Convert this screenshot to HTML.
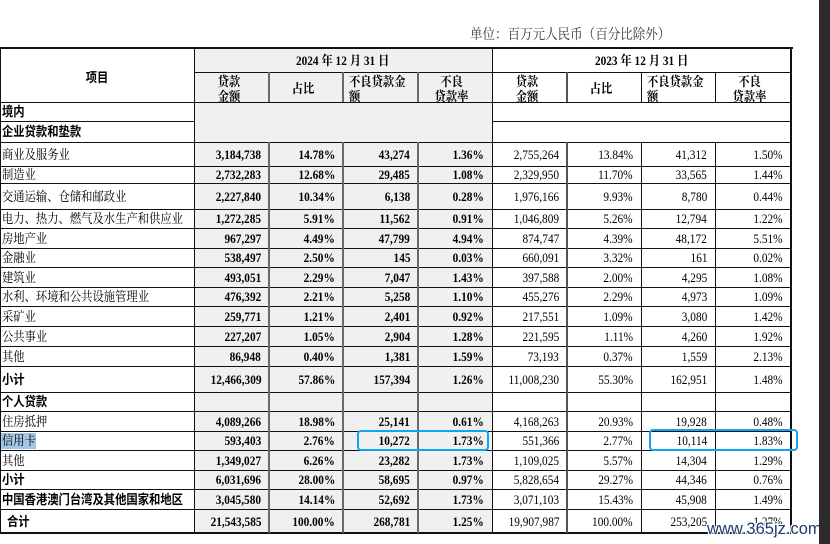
<!DOCTYPE html>
<html><head><meta charset="utf-8">
<style>
html,body{margin:0;padding:0;}
body{width:830px;height:544px;position:relative;overflow:hidden;background:#fff;}
.abs{position:absolute;}
.gray{background:#f0f0f0;}
.h{position:absolute;height:1px;background:#111;}
.v{position:absolute;width:1px;background:#111;}
.vg{position:absolute;width:2px;background:#6a6a6a;}
.row{position:absolute;left:0;width:792px;}
.row>div{position:absolute;top:0;height:100%;display:flex;align-items:center;justify-content:flex-end;padding-right:8px;box-sizing:border-box;font-family:"Liberation Serif","Noto Serif CJK SC",serif;font-size:13px;white-space:nowrap;color:#000;}
.row>div span{display:inline-block;transform:scaleX(.87);transform-origin:right center;line-height:1;}
.row>div.a{justify-content:flex-start;padding-left:2px;padding-right:0;font-family:"Liberation Serif","Noto Serif CJK SC",serif;}
.row>div.a span{transform-origin:left center;}
.row>div.a.bd{font-family:"Liberation Sans","Noto Sans CJK SC",sans-serif;font-weight:bold;}
.a{left:0;width:194px;}
.b1{left:194px;width:75px;font-weight:bold;}
.b2{left:269px;width:74px;font-weight:bold;}
.b3{left:343px;width:75px;font-weight:bold;}
.b4{left:418px;width:74px;font-weight:bold;}
.c1{left:492px;width:75px;}
.c2{left:567px;width:74px;}
.c3{left:641px;width:74px;}
.c4{left:715px;width:76px;}
.hd{position:absolute;display:flex;align-items:center;justify-content:center;box-sizing:border-box;font-family:"Liberation Serif","Noto Serif CJK SC",serif;font-size:13px;font-weight:bold;white-space:nowrap;color:#000;}
.hd span{display:inline-block;transform:scaleX(.87);line-height:15px;text-align:center;}
.hd.two{padding-top:4px;}
.hd.l{justify-content:flex-start;padding-left:6px;}
.hd.l span{transform-origin:left center;text-align:left;}
.box{position:absolute;border:2px solid #16a2ee;border-radius:4px;box-sizing:border-box;}
</style></head>
<body>

<div class="abs" style="left:470px;top:26px;height:18px;font-family:'Liberation Serif','Noto Serif CJK SC',serif;font-size:14.4px;color:#3a3a3a;white-space:nowrap;line-height:18px;"><span style="display:inline-block;transform:scaleX(.87);transform-origin:left center;">单位：百万元人民币（百分比除外）</span></div>

<div class="abs gray" style="left:194px;top:48px;width:298px;height:485px;"></div>

<div class="abs" style="left:0;top:433px;width:36px;height:16px;background:#a3c6e6;"></div>

<div class="abs" style="left:0;top:47px;width:793px;height:2px;background:#111;"></div>
<div class="h" style="left:194px;top:72px;width:598px;"></div>
<div class="h" style="left:0;top:102px;width:792px;"></div>
<div class="h" style="left:0;top:121px;width:194px;"></div>
<div class="h" style="left:492px;top:121px;width:300px;"></div>
<div class="h" style="left:0;top:142px;width:792px;"></div>
<div class="h" style="left:0;top:166px;width:792px;"></div>
<div class="h" style="left:0;top:183px;width:792px;"></div>
<div class="h" style="left:0;top:209px;width:792px;"></div>
<div class="h" style="left:0;top:228px;width:792px;"></div>
<div class="h" style="left:0;top:248px;width:792px;"></div>
<div class="h" style="left:0;top:267px;width:792px;"></div>
<div class="h" style="left:0;top:287px;width:792px;"></div>
<div class="h" style="left:0;top:306px;width:792px;"></div>
<div class="h" style="left:0;top:326px;width:792px;"></div>
<div class="h" style="left:0;top:346px;width:792px;"></div>
<div class="h" style="left:0;top:366px;width:792px;"></div>
<div class="h" style="left:0;top:392px;width:792px;"></div>
<div class="h" style="left:0;top:411px;width:792px;"></div>
<div class="h" style="left:0;top:431px;width:792px;"></div>
<div class="h" style="left:0;top:450px;width:792px;"></div>
<div class="h" style="left:0;top:470px;width:792px;"></div>
<div class="h" style="left:0;top:489px;width:792px;"></div>
<div class="h" style="left:0;top:509px;width:792px;"></div>
<div class="abs" style="left:0;top:532px;width:793px;height:2px;background:#111;"></div>

<div class="v" style="left:0;top:48px;height:485px;"></div>
<div class="v" style="left:194px;top:48px;height:485px;"></div>
<div class="v" style="left:492px;top:48px;height:485px;"></div>
<div class="abs" style="left:790px;top:47px;width:2px;height:487px;background:#111;"></div>

<div class="vg" style="left:268px;top:72px;height:30px;"></div>
<div class="vg" style="left:342px;top:72px;height:30px;"></div>
<div class="vg" style="left:417px;top:72px;height:30px;"></div>
<div class="vg" style="left:268px;top:142px;height:391px;"></div>
<div class="vg" style="left:342px;top:142px;height:391px;"></div>
<div class="vg" style="left:417px;top:142px;height:391px;"></div>

<div class="abs" style="left:566px;top:72px;width:2px;height:30px;background:#555;"></div>
<div class="abs" style="left:566px;top:142px;width:2px;height:391px;background:#555;"></div>
<div class="v" style="left:641px;top:72px;height:30px;"></div>
<div class="v" style="left:641px;top:142px;height:391px;"></div>
<div class="v" style="left:715px;top:72px;height:30px;"></div>
<div class="v" style="left:715px;top:142px;height:391px;"></div>

<div class="hd" style="left:0;top:50px;width:194px;height:54px;font-family:'Liberation Sans','Noto Sans CJK SC',sans-serif;"><span>项目</span></div>
<div class="hd" style="left:194px;top:48px;width:298px;height:24px;"><span>2024 年 12 月 31 日</span></div>
<div class="hd" style="left:492px;top:48px;width:299px;height:24px;"><span>2023 年 12 月 31 日</span></div>

<div class="hd two" style="left:194px;top:72px;width:75px;height:30px;padding-right:5px;"><span>贷款<br>金额</span></div>
<div class="hd" style="left:269px;top:73px;width:74px;height:30px;padding-right:5px;"><span>占比</span></div>
<div class="hd l two" style="left:343px;top:72px;width:75px;height:30px;"><span>不良贷款金<br>额</span></div>
<div class="hd two" style="left:418px;top:72px;width:74px;height:30px;padding-right:6px;"><span>不良<br>贷款率</span></div>

<div class="hd two" style="left:492px;top:72px;width:75px;height:30px;padding-right:5px;"><span>贷款<br>金额</span></div>
<div class="hd" style="left:567px;top:73px;width:74px;height:30px;padding-right:5px;"><span>占比</span></div>
<div class="hd l two" style="left:641px;top:72px;width:74px;height:30px;"><span>不良贷款金<br>额</span></div>
<div class="hd two" style="left:715px;top:72px;width:76px;height:30px;padding-right:6px;"><span>不良<br>贷款率</span></div>

<div class="row" style="top:102px;height:19px;"><div class="a bd"><span>境内</span></div></div>
<div class="row" style="top:121px;height:21px;"><div class="a bd"><span>企业贷款和垫款</span></div></div>

<div class="row" style="top:142px;height:24px;"><div class="a"><span>商业及服务业</span></div><div class="b1"><span>3,184,738</span></div><div class="b2"><span>14.78%</span></div><div class="b3"><span>43,274</span></div><div class="b4"><span>1.36%</span></div><div class="c1"><span>2,755,264</span></div><div class="c2"><span>13.84%</span></div><div class="c3"><span>41,312</span></div><div class="c4"><span>1.50%</span></div></div>

<div class="row" style="top:166px;height:17px;"><div class="a"><span>制造业</span></div><div class="b1"><span>2,732,283</span></div><div class="b2"><span>12.68%</span></div><div class="b3"><span>29,485</span></div><div class="b4"><span>1.08%</span></div><div class="c1"><span>2,329,950</span></div><div class="c2"><span>11.70%</span></div><div class="c3"><span>33,565</span></div><div class="c4"><span>1.44%</span></div></div>

<div class="row" style="top:183px;height:26px;"><div class="a"><span>交通运输、仓储和邮政业</span></div><div class="b1"><span>2,227,840</span></div><div class="b2"><span>10.34%</span></div><div class="b3"><span>6,138</span></div><div class="b4"><span>0.28%</span></div><div class="c1"><span>1,976,166</span></div><div class="c2"><span>9.93%</span></div><div class="c3"><span>8,780</span></div><div class="c4"><span>0.44%</span></div></div>

<div class="row" style="top:209px;height:19px;"><div class="a"><span>电力、热力、燃气及水生产和供应业</span></div><div class="b1"><span>1,272,285</span></div><div class="b2"><span>5.91%</span></div><div class="b3"><span>11,562</span></div><div class="b4"><span>0.91%</span></div><div class="c1"><span>1,046,809</span></div><div class="c2"><span>5.26%</span></div><div class="c3"><span>12,794</span></div><div class="c4"><span>1.22%</span></div></div>

<div class="row" style="top:228px;height:20px;"><div class="a"><span>房地产业</span></div><div class="b1"><span>967,297</span></div><div class="b2"><span>4.49%</span></div><div class="b3"><span>47,799</span></div><div class="b4"><span>4.94%</span></div><div class="c1"><span>874,747</span></div><div class="c2"><span>4.39%</span></div><div class="c3"><span>48,172</span></div><div class="c4"><span>5.51%</span></div></div>

<div class="row" style="top:248px;height:19px;"><div class="a"><span>金融业</span></div><div class="b1"><span>538,497</span></div><div class="b2"><span>2.50%</span></div><div class="b3"><span>145</span></div><div class="b4"><span>0.03%</span></div><div class="c1"><span>660,091</span></div><div class="c2"><span>3.32%</span></div><div class="c3"><span>161</span></div><div class="c4"><span>0.02%</span></div></div>

<div class="row" style="top:267px;height:20px;"><div class="a"><span>建筑业</span></div><div class="b1"><span>493,051</span></div><div class="b2"><span>2.29%</span></div><div class="b3"><span>7,047</span></div><div class="b4"><span>1.43%</span></div><div class="c1"><span>397,588</span></div><div class="c2"><span>2.00%</span></div><div class="c3"><span>4,295</span></div><div class="c4"><span>1.08%</span></div></div>

<div class="row" style="top:287px;height:19px;"><div class="a"><span>水利、环境和公共设施管理业</span></div><div class="b1"><span>476,392</span></div><div class="b2"><span>2.21%</span></div><div class="b3"><span>5,258</span></div><div class="b4"><span>1.10%</span></div><div class="c1"><span>455,276</span></div><div class="c2"><span>2.29%</span></div><div class="c3"><span>4,973</span></div><div class="c4"><span>1.09%</span></div></div>

<div class="row" style="top:306px;height:20px;"><div class="a"><span>采矿业</span></div><div class="b1"><span>259,771</span></div><div class="b2"><span>1.21%</span></div><div class="b3"><span>2,401</span></div><div class="b4"><span>0.92%</span></div><div class="c1"><span>217,551</span></div><div class="c2"><span>1.09%</span></div><div class="c3"><span>3,080</span></div><div class="c4"><span>1.42%</span></div></div>

<div class="row" style="top:326px;height:20px;"><div class="a"><span>公共事业</span></div><div class="b1"><span>227,207</span></div><div class="b2"><span>1.05%</span></div><div class="b3"><span>2,904</span></div><div class="b4"><span>1.28%</span></div><div class="c1"><span>221,595</span></div><div class="c2"><span>1.11%</span></div><div class="c3"><span>4,260</span></div><div class="c4"><span>1.92%</span></div></div>

<div class="row" style="top:346px;height:20px;"><div class="a"><span>其他</span></div><div class="b1"><span>86,948</span></div><div class="b2"><span>0.40%</span></div><div class="b3"><span>1,381</span></div><div class="b4"><span>1.59%</span></div><div class="c1"><span>73,193</span></div><div class="c2"><span>0.37%</span></div><div class="c3"><span>1,559</span></div><div class="c4"><span>2.13%</span></div></div>

<div class="row" style="top:366px;height:26px;"><div class="a bd"><span>小计</span></div><div class="b1"><span>12,466,309</span></div><div class="b2"><span>57.86%</span></div><div class="b3"><span>157,394</span></div><div class="b4"><span>1.26%</span></div><div class="c1"><span>11,008,230</span></div><div class="c2"><span>55.30%</span></div><div class="c3"><span>162,951</span></div><div class="c4"><span>1.48%</span></div></div>

<div class="row" style="top:392px;height:19px;"><div class="a bd"><span>个人贷款</span></div></div>

<div class="row" style="top:411px;height:20px;"><div class="a"><span>住房抵押</span></div><div class="b1"><span>4,089,266</span></div><div class="b2"><span>18.98%</span></div><div class="b3"><span>25,141</span></div><div class="b4"><span>0.61%</span></div><div class="c1"><span>4,168,263</span></div><div class="c2"><span>20.93%</span></div><div class="c3"><span>19,928</span></div><div class="c4"><span>0.48%</span></div></div>

<div class="row" style="top:431px;height:19px;"><div class="a"><span>信用卡</span></div><div class="b1"><span>593,403</span></div><div class="b2"><span>2.76%</span></div><div class="b3"><span>10,272</span></div><div class="b4"><span>1.73%</span></div><div class="c1"><span>551,366</span></div><div class="c2"><span>2.77%</span></div><div class="c3"><span>10,114</span></div><div class="c4"><span>1.83%</span></div></div>

<div class="row" style="top:450px;height:20px;"><div class="a"><span>其他</span></div><div class="b1"><span>1,349,027</span></div><div class="b2"><span>6.26%</span></div><div class="b3"><span>23,282</span></div><div class="b4"><span>1.73%</span></div><div class="c1"><span>1,109,025</span></div><div class="c2"><span>5.57%</span></div><div class="c3"><span>14,304</span></div><div class="c4"><span>1.29%</span></div></div>

<div class="row" style="top:470px;height:19px;"><div class="a bd"><span>小计</span></div><div class="b1"><span>6,031,696</span></div><div class="b2"><span>28.00%</span></div><div class="b3"><span>58,695</span></div><div class="b4"><span>0.97%</span></div><div class="c1"><span>5,828,654</span></div><div class="c2"><span>29.27%</span></div><div class="c3"><span>44,346</span></div><div class="c4"><span>0.76%</span></div></div>

<div class="row" style="top:489px;height:20px;"><div class="a bd"><span>中国香港澳门台湾及其他国家和地区</span></div><div class="b1"><span>3,045,580</span></div><div class="b2"><span>14.14%</span></div><div class="b3"><span>52,692</span></div><div class="b4"><span>1.73%</span></div><div class="c1"><span>3,071,103</span></div><div class="c2"><span>15.43%</span></div><div class="c3"><span>45,908</span></div><div class="c4"><span>1.49%</span></div></div>

<div class="row" style="top:509px;height:24px;"><div class="a bd" style="padding-left:7px;"><span>合计</span></div><div class="b1"><span>21,543,585</span></div><div class="b2"><span>100.00%</span></div><div class="b3"><span>268,781</span></div><div class="b4"><span>1.25%</span></div><div class="c1"><span>19,907,987</span></div><div class="c2"><span>100.00%</span></div><div class="c3"><span>253,205</span></div><div class="c4"><span>1.27%</span></div></div>

<div class="box" style="left:357px;top:430px;width:132px;height:21px;"></div>
<div class="box" style="left:649px;top:429px;width:149px;height:22px;"></div>

<div class="abs" style="left:707px;top:519px;height:20px;line-height:20px;font-family:'Liberation Sans',sans-serif;font-size:16.5px;color:#1e3a70;white-space:nowrap;text-shadow:1px 1px 0 #fff,-1px -1px 0 #fff,1px -1px 0 #fff,-1px 1px 0 #fff,1px 0 0 #fff,0 1px 0 #fff;">www.365jz.com</div>

<div class="abs" style="left:819px;top:0;width:11px;height:544px;background:#2b2b2b;"></div>

</body></html>
